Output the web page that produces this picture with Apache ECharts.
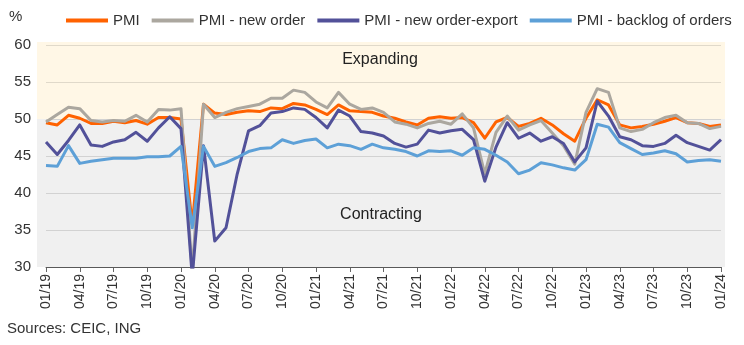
<!DOCTYPE html>
<html><head><meta charset="utf-8">
<script src="https://cdn.jsdelivr.net/npm/echarts/dist/echarts.min.js"></script>
<style>html,body{margin:0;padding:0;background:#fff}#c{width:744px;height:345px}</style>
</head><body><div id="c"></div>
<script>
const months = [
 "01/19","02/19","03/19","04/19","05/19","06/19","07/19","08/19","09/19","10/19","11/19","12/19",
 "01/20","02/20","03/20","04/20","05/20","06/20","07/20","08/20","09/20","10/20","11/20","12/20",
 "01/21","02/21","03/21","04/21","05/21","06/21","07/21","08/21","09/21","10/21","11/21","12/21",
 "01/22","02/22","03/22","04/22","05/22","06/22","07/22","08/22","09/22","10/22","11/22","12/22",
 "01/23","02/23","03/23","04/23","05/23","06/23","07/23","08/23","09/23","10/23","11/23","12/23",
 "01/24"];
const pmi = [
 49.5,49.2,50.5,50.1,49.4,49.4,49.7,49.5,49.8,49.3,50.2,50.2,
 50.0,35.7,52.0,50.8,50.6,50.9,51.1,51.0,51.5,51.4,52.1,51.9,
 51.3,50.6,51.9,51.1,51.0,50.9,50.4,50.1,49.6,49.2,50.1,50.3,
 50.1,50.2,49.5,47.4,49.6,50.2,49.0,49.4,50.1,49.2,48.0,47.0,
 50.1,52.6,51.9,49.2,48.8,49.0,49.3,49.7,50.2,49.5,49.4,49.0,
 49.2];
const newOrder = [
 49.6,50.6,51.6,51.4,49.8,49.6,49.8,49.7,50.5,49.6,51.3,51.2,
 51.4,29.3,52.0,50.2,50.9,51.4,51.7,52.0,52.8,52.8,53.9,53.6,
 52.3,51.5,53.6,52.0,51.3,51.5,50.9,49.6,49.3,48.8,49.4,49.7,
 49.3,50.7,48.8,42.6,48.2,50.4,48.5,49.2,49.8,48.1,46.4,43.9,
 50.9,54.1,53.6,48.8,48.3,48.6,49.5,50.2,50.5,49.5,49.4,48.7,
 49.0];
const newExport = [
 46.9,45.2,47.1,49.2,46.5,46.3,46.9,47.2,48.2,47.0,48.8,50.3,
 48.7,28.7,46.4,33.5,35.3,42.6,48.4,49.1,50.8,51.0,51.5,51.3,
 50.2,48.8,51.2,50.4,48.3,48.1,47.7,46.7,46.2,46.6,48.5,48.1,
 48.4,48.6,47.2,41.6,46.2,49.5,47.4,48.1,47.0,47.6,46.7,44.2,
 46.1,52.4,50.4,47.6,47.2,46.4,46.3,46.7,47.8,46.8,46.3,45.8,
 47.2];
const backlog = [
 43.7,43.6,46.4,44.0,44.3,44.5,44.7,44.7,44.7,44.9,44.9,45.0,
 46.3,35.3,46.3,43.6,44.1,44.8,45.6,46.0,46.1,47.2,46.7,47.1,
 47.3,46.1,46.6,46.4,45.9,46.6,46.1,45.9,45.6,45.0,45.7,45.6,
 45.7,45.1,46.1,45.9,45.1,44.2,42.6,43.1,44.1,43.8,43.4,43.1,
 44.5,49.3,48.9,46.8,46.0,45.2,45.4,45.7,45.3,44.2,44.4,44.5,
 44.3];
const seriesNames = ["PMI","PMI - new order","PMI - new order-export","PMI - backlog of orders"];
const bandLow = 30, bandMid = 50, bandHigh = 60.4;

const FONT = "Liberation Sans, Arial, sans-serif";
const colors = ["#FF6200","#ABA79F","#525199","#5DA0D7"];
const chart = echarts.init(document.getElementById('c'), null, {renderer:'canvas'});
const mk = (name, data, i) => ({
  name, type:'line', data, xAxisIndex:0, yAxisIndex:0, symbol:'none', z: 3+i,
  lineStyle:{width:3, color:colors[i], join:'round'}, itemStyle:{color:colors[i]}
});
chart.setOption({
  animation:false,
  color: colors,
  textStyle:{fontFamily:FONT},
  grid:[
    {left:46, right:23, top:45, bottom:78},
    {left:37, right:19, top:42, bottom:78}
  ],
  legend:{
    data: seriesNames, left:61, top:8, icon:'rect', itemWidth:42, itemHeight:4, itemGap:12,
    textStyle:{fontSize:15, color:'#333', fontFamily:FONT}
  },
  xAxis:[
    {type:'category', gridIndex:0, data:months, boundaryGap:false,
     axisLine:{lineStyle:{color:'#666', width:1}},
     axisTick:{show:true, interval:2, length:5, lineStyle:{color:'#666'}},
     axisLabel:{interval:2, rotate:90, fontSize:14, color:'#333', margin:7, fontFamily:FONT},
     splitLine:{show:false}},
    {type:'value', gridIndex:1, min:0, max:1, show:false}
  ],
  yAxis:[
    {type:'value', gridIndex:0, min:30, max:60, interval:5, z:1,
     axisLine:{show:false}, axisTick:{show:false},
     axisLabel:{fontSize:15, color:'#333', margin:15, fontFamily:FONT},
     splitLine:{lineStyle:{color:'rgba(0,0,0,0.12)', width:1}}},
    {type:'value', gridIndex:1, min:bandLow, max:bandHigh, show:false}
  ],
  graphic:[
    {type:'text', left:9, top:9, style:{text:'%', fontSize:15, fill:'#333', fontFamily:FONT}},
    {type:'text', x:380, y:60, style:{text:'Expanding', fontSize:16, fill:'#222', fontFamily:FONT, align:'center', verticalAlign:'middle'}},
    {type:'text', x:381, y:215, style:{text:'Contracting', fontSize:16, fill:'#222', fontFamily:FONT, align:'center', verticalAlign:'middle'}},
    {type:'text', left:7, top:321, style:{text:'Sources: CEIC, ING', fontSize:15, fill:'#333', fontFamily:FONT}}
  ],
  series:[
    {type:'line', xAxisIndex:1, yAxisIndex:1, data:[[0,bandLow]], symbol:'none', z:-5,
     lineStyle:{opacity:0}, silent:true,
     markArea:{silent:true, z:-5, data:[
       [{xAxis:0, yAxis:bandMid, itemStyle:{color:'#FFF7E6'}},{xAxis:1, yAxis:bandHigh}],
       [{xAxis:0, yAxis:bandLow, itemStyle:{color:'#F0F0F0'}},{xAxis:1, yAxis:bandMid}]
     ]}},
    mk(seriesNames[0], pmi, 0),
    mk(seriesNames[1], newOrder, 1),
    mk(seriesNames[2], newExport, 2),
    mk(seriesNames[3], backlog, 3)
  ]
});
</script></body></html>
